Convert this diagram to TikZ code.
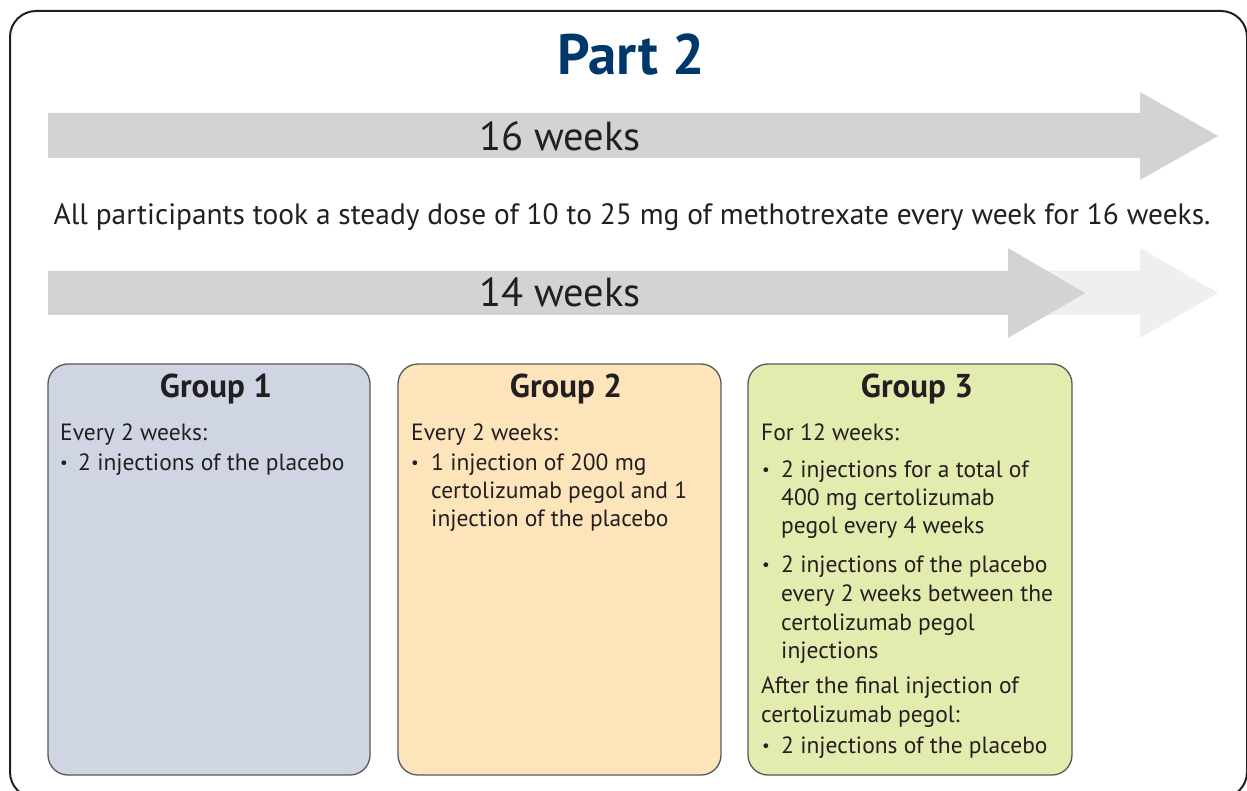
\documentclass[tikz,border=0pt]{standalone}
\usepackage{fontspec}
\setmainfont{PT Sans}
\definecolor{navy}{HTML}{00386B}
\definecolor{ink}{HTML}{231F20}
\definecolor{arrdark}{HTML}{D1D3D4}
\definecolor{arrlight}{HTML}{EFEFF0}
\definecolor{gone}{HTML}{CFD5E3}
\definecolor{gtwo}{HTML}{FDE4BB}
\definecolor{gthree}{HTML}{E3EBAF}
\definecolor{boxline}{HTML}{58595B}
\begin{document}
\begin{tikzpicture}[x=1pt,y=-1pt,
  frame/.style={draw=ink,line width=2pt,rounded corners=26pt},
  groupbox/.style={draw=boxline,line width=1.3pt,rounded corners=20pt},
  body/.style={font=\fontsize{23.5}{29}\selectfont,text=ink,inner sep=0pt,anchor=base west},
  grouptitle/.style={font=\fontsize{33}{33}\selectfont\bfseries,text=ink,inner sep=0pt,anchor=base},
  weeks/.style={font=\fontsize{40.5}{40.5}\selectfont,text=ink,inner sep=0pt,anchor=base},
  bul/.style={font=\fontsize{17}{29}\selectfont,text=ink,inner sep=0pt,anchor=base west}
]
\useasboundingbox (0,0) rectangle (1247,791);
\clip (0,0) rectangle (1247,791);
\fill[white] (0,0) rectangle (1247,791);
\draw[frame] (10,11) rectangle (1247,798);

% title
\node[font=\fontsize{57}{57}\selectfont\bfseries,text=navy,inner sep=0pt,anchor=base] (title) at (631,75) {Part 2};

% 16 weeks arrow
\fill[arrdark] (48,113) -- (1140,113) -- (1140,92) -- (1218,136) -- (1140,180) -- (1140,158) -- (48,158) -- cycle;
\node[weeks] (w16) at (560,151) {16 weeks};

% description
\node[font=\fontsize{29.4}{29.4}\selectfont,text=ink,inner sep=0pt,anchor=base] (desc) at (632,225) {All participants took a steady dose of 10 to 25 mg of methotrexate every week for 16 weeks.};

% 14 weeks arrows
\fill[arrlight] (1000,271) -- (1140,271) -- (1140,248) -- (1218,293) -- (1140,338) -- (1140,315) -- (1000,315) -- cycle;
\fill[arrdark] (48,271) -- (1008,271) -- (1008,248) -- (1085,293) -- (1008,338) -- (1008,315) -- (48,315) -- cycle;
\node[weeks] (w14) at (560,307) {14 weeks};

% group boxes
\draw[groupbox,fill=gone] (48,364) rectangle (370,775);
\draw[groupbox,fill=gtwo] (398,364) rectangle (721,775);
\draw[groupbox,fill=gthree] (748,364) rectangle (1072,775);

\node[grouptitle] (t1) at (216,397) {Group 1};
\node[grouptitle] (t2) at (566,397) {Group 2};
\node[grouptitle] (t3) at (917,397) {Group 3};

% group 1
\node[body] (g1a) at (60,440) {Every 2 weeks:};
\node[bul] (g1b) at (60,468) {•};
\node[body] (g1c) at (78,470) {2 injections of the placebo};

% group 2
\node[body] (g2a) at (411,440) {Every 2 weeks:};
\node[bul] (g2b) at (411,468) {•};
\node[body] (g2c) at (431,470) {1 injection of 200 mg};
\node[body] (g2d) at (431,498) {certolizumab pegol and 1};
\node[body] (g2e) at (431,526) {injection of the placebo};

% group 3
\node[body] (g3a) at (761,440) {For 12 weeks:};
\node[bul] (g3b) at (762,475) {•};
\node[body] (g3c) at (781,477) {2 injections for a total of};
\node[body] (g3d) at (781,505) {400 mg certolizumab};
\node[body] (g3e) at (781,533) {pegol every 4 weeks};
\node[bul] (g3f) at (762,570) {•};
\node[body] (g3g) at (781,572) {2 injections of the placebo};
\node[body] (g3h) at (781,601) {every 2 weeks between the};
\node[body] (g3i) at (781,630) {certolizumab pegol};
\node[body] (g3j) at (781,658) {injections};
\node[body] (g3k) at (761,693) {After the final injection of};
\node[body] (g3l) at (761,722) {certolizumab pegol:};
\node[bul] (g3m) at (762,751) {•};
\node[body] (g3n) at (781,753) {2 injections of the placebo};
\end{tikzpicture}
\end{document}
